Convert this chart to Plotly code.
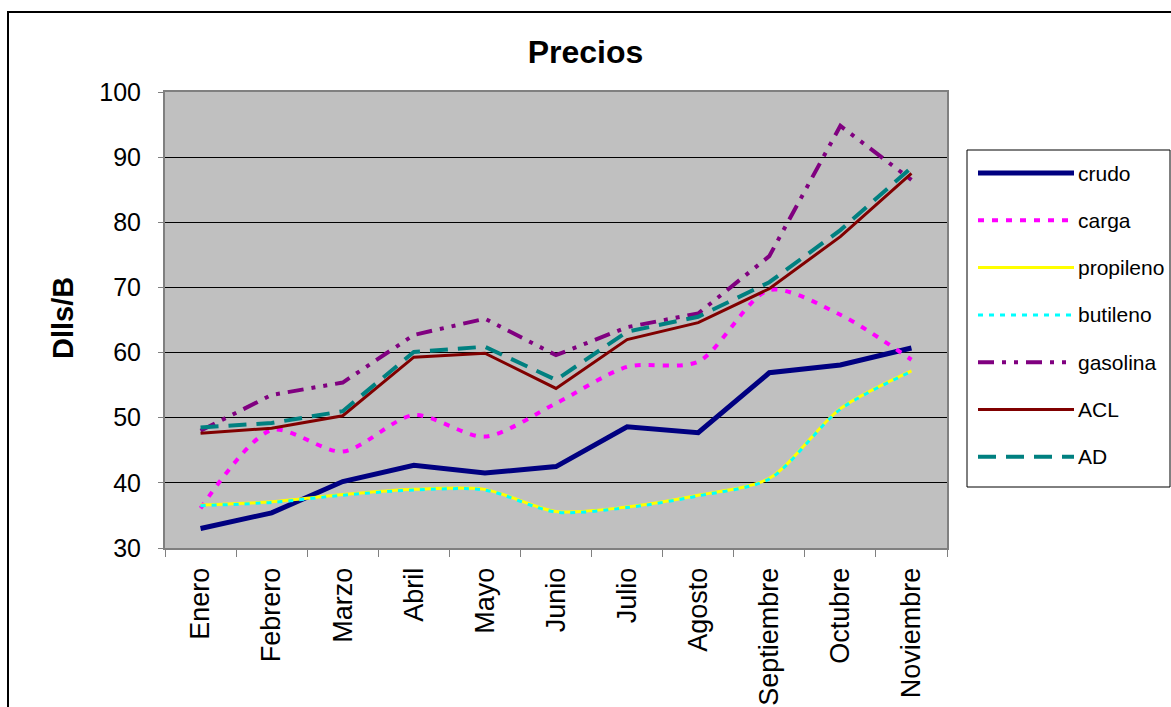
import plotly.graph_objects as go

# Monthly prices (Dlls/B)
meses = ["Enero", "Febrero", "Marzo", "Abril", "Mayo", "Junio", "Julio",
         "Agosto", "Septiembre", "Octubre", "Noviembre"]
crudo = [33.0, 35.4, 40.2, 42.7, 41.5, 42.5, 48.6, 47.7, 56.9, 58.1, 60.7]
carga = [36.1, 48.1, 44.8, 50.4, 47.1, 52.2, 57.8, 58.6, 69.6, 65.8, 58.9]
propileno = [36.6, 37.1, 38.2, 39.0, 39.0, 35.6, 36.3, 38.1, 40.7, 51.4, 57.2]
butileno = [36.5, 37.0, 38.1, 38.9, 38.9, 35.5, 36.2, 38.0, 40.6, 51.3, 57.1]
gasolina = [48.0, 53.5, 55.4, 62.7, 65.2, 59.6, 63.9, 66.0, 74.8, 94.8, 86.5]
acl = [47.6, 48.4, 50.3, 59.3, 59.9, 54.5, 62.0, 64.6, 69.8, 77.8, 87.5]
ad = [48.5, 49.2, 51.0, 60.1, 60.9, 55.8, 63.2, 65.5, 70.8, 78.8, 88.4]

y_ticks = [30, 40, 50, 60, 70, 80, 90, 100]

FONT = "Liberation Sans, Arial, sans-serif"

series = [
    ("crudo", crudo, dict(color="#000080", width=5, dash="solid"), "linear"),
    ("carga", carga, dict(color="#FF00FF", width=4, dash="6px,8px"), "spline"),
    ("propileno", propileno, dict(color="#FFFF00", width=3, dash="solid"), "spline"),
    ("butileno", butileno, dict(color="#00FFFF", width=3, dash="5px,6px"), "spline"),
    ("gasolina", gasolina, dict(color="#800080", width=4,
                                dash="16px,8px,4px,8px,4px,8px"), "linear"),
    ("ACL", acl, dict(color="#800000", width=3, dash="solid"), "linear"),
    ("AD", ad, dict(color="#008080", width=4, dash="18px,10px"), "linear"),
]

W, H = 1171, 707
L, R, T, B = 165, 947, 92, 548  # plot area in pixels


def px_x(x):
    return (x - L) / (R - L)


def px_y(y):
    return (B - y) / (B - T)


fig = go.Figure()
for name, vals, line, shape in series:
    fig.add_trace(go.Scatter(
        x=meses, y=vals, name=name, mode="lines",
        line=dict(color=line["color"], width=line["width"], dash=line["dash"],
                  shape=shape, smoothing=0.8 if shape == "spline" else None),
        showlegend=False,
    ))

shapes = []
annotations = []

# outer chart border
shapes.append(dict(type="rect", xref="paper", yref="paper",
                   x0=px_x(8), x1=px_x(1185), y0=px_y(720), y1=px_y(12),
                   line=dict(color="black", width=2), fillcolor="rgba(0,0,0,0)",
                   layer="below"))

# legend box with line samples
shapes.append(dict(type="rect", xref="paper", yref="paper",
                   x0=px_x(967), x1=px_x(1170), y0=px_y(487), y1=px_y(150),
                   line=dict(color="black", width=1), fillcolor="white"))
row0, step = 173, 47.3
for i, (name, vals, line, shape) in enumerate(series):
    yy = px_y(row0 + i * step)
    shapes.append(dict(type="line", xref="paper", yref="paper",
                       x0=px_x(978), x1=px_x(1074), y0=yy, y1=yy,
                       line=dict(color=line["color"], width=line["width"],
                                 dash=line["dash"])))
    annotations.append(dict(xref="paper", yref="paper", x=px_x(1076), y=yy,
                            text=name, showarrow=False, xanchor="left",
                            yanchor="middle",
                            font=dict(family=FONT, size=21, color="black")))

# y axis title
annotations.append(dict(xref="paper", yref="paper", x=px_x(63), y=px_y(318),
                        text="<b>Dlls/B</b>", textangle=-90, showarrow=False,
                        xanchor="center", yanchor="middle",
                        font=dict(family=FONT, size=29, color="black")))

fig.update_layout(
    width=W, height=H,
    margin=dict(l=L, r=W - R, t=T, b=H - B),
    paper_bgcolor="white",
    plot_bgcolor="#C0C0C0",
    title=dict(text="<b>Precios</b>", x=0.5, xanchor="center",
               y=1 - 52 / H, yanchor="middle",
               font=dict(family=FONT, size=32, color="black")),
    shapes=shapes,
    annotations=annotations,
    xaxis=dict(
        type="category", range=[-0.5, len(meses) - 0.5], automargin=False,
        tickson="boundaries", ticks="outside", ticklen=7,
        tickcolor="#808080", tickwidth=1, tickangle=-90,
        showgrid=False, showline=True, linecolor="#808080", linewidth=2,
        mirror=True, ticklabelstandoff=7,
        tickfont=dict(family=FONT, size=27, color="black"),
    ),
    yaxis=dict(
        range=[30, 100], tickvals=y_ticks, ticks="outside", ticklen=5,
        automargin=False,
        tickcolor="#808080", showgrid=True, gridcolor="black", gridwidth=1,
        showline=True, linecolor="#808080", linewidth=2, mirror=True,
        zeroline=False, ticklabelstandoff=12,
        tickfont=dict(family=FONT, size=25, color="black"),
    ),
)

fig.write_html("out.html")
